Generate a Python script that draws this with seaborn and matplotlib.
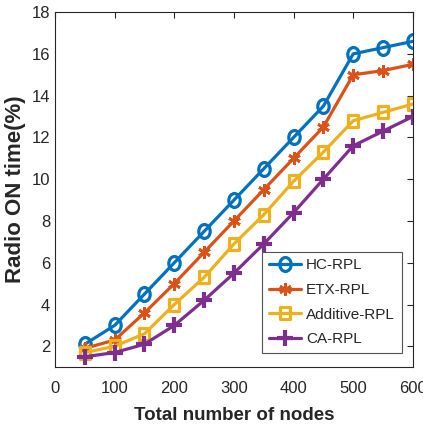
import pandas as pd
import matplotlib.pyplot as plt
import seaborn as sns
from matplotlib.path import Path
from matplotlib.transforms import Affine2D

# Data
nodes = [50, 100, 150, 200, 250, 300, 350, 400, 450, 500, 550, 600]
hc_rpl = [2.1, 3.0, 4.5, 6.0, 7.5, 9.0, 10.5, 12.0, 13.5, 16.0, 16.3, 16.6]
etx_rpl = [1.9, 2.3, 3.6, 5.0, 6.5, 8.0, 9.5, 11.0, 12.5, 15.0, 15.2, 15.5]
additive_rpl = [1.7, 2.0, 2.6, 4.0, 5.3, 6.9, 8.3, 9.9, 11.3, 12.8, 13.2, 13.6]
ca_rpl = [1.5, 1.7, 2.1, 3.0, 4.2, 5.5, 6.9, 8.4, 10.0, 11.6, 12.3, 13.0]
methods = ['HC-RPL', 'ETX-RPL', 'Additive-RPL', 'CA-RPL']

rows = []
for name, vals in zip(methods, [hc_rpl, etx_rpl, additive_rpl, ca_rpl]):
    for n, v in zip(nodes, vals):
        rows.append({'nodes': n, 'value': v, 'method': name})
df = pd.DataFrame(rows)

# slightly squeezed markers, like the original figure
squeeze = Affine2D().scale(0.82, 1.0)
ellipse = squeeze.transform_path(Path.unit_circle())
rect = Affine2D().translate(-0.5, -0.5).scale(0.82, 1.0).transform_path(Path.unit_rectangle())

styles = {
    'HC-RPL': dict(color='#0072BD', marker=ellipse, markersize=10, markerfacecolor='none', markeredgewidth=2.3),
    'ETX-RPL': dict(color='#D95319', marker=(6, 2, 0), markersize=9, markeredgewidth=2.0),
    'Additive-RPL': dict(color='#EDB120', marker=rect, markersize=9, markerfacecolor='none', markeredgewidth=2.3),
    'CA-RPL': dict(color='#7E2F8E', marker='+', markersize=11, markeredgewidth=3.0),
}

sns.set_style('white')
plt.rcParams['font.family'] = ['Liberation Sans', 'DejaVu Sans']

fig = plt.figure(figsize=(4.23, 4.33), dpi=100)
ax = fig.add_axes([0.130, 0.152, 0.846, 0.820])

for name in methods:
    st = styles[name]
    sns.lineplot(data=df[df['method'] == name], x='nodes', y='value', ax=ax,
                 linewidth=2.3, markeredgecolor=st['color'], label=name, **st)

ax.set_xlim(0, 600)
ax.set_ylim(1, 18)
ax.set_xticks(range(0, 601, 100))
ax.set_yticks(range(2, 19, 2))
ax.tick_params(direction='in', top=True, right=True, length=4, width=0.8,
               labelsize=12, colors='#262626')
ax.tick_params(axis='x', pad=10)
for s in ax.spines.values():
    s.set_color('#262626')
    s.set_linewidth(0.8)

ax.set_xlabel('Total number of nodes', fontsize=13.5, fontweight='bold', labelpad=8)
ax.set_ylabel('Radio ON time(%)', fontsize=16, fontweight='bold', labelpad=4)

leg = ax.legend(loc='lower right', bbox_to_anchor=(0.969, 0.039), borderaxespad=0,
                fontsize=11, frameon=True, fancybox=False, edgecolor='#262626',
                handlelength=2.1, borderpad=0.45, labelspacing=0.7, handletextpad=0.3)
leg.get_frame().set_linewidth(0.8)

fig.savefig('out.png', dpi=100)
